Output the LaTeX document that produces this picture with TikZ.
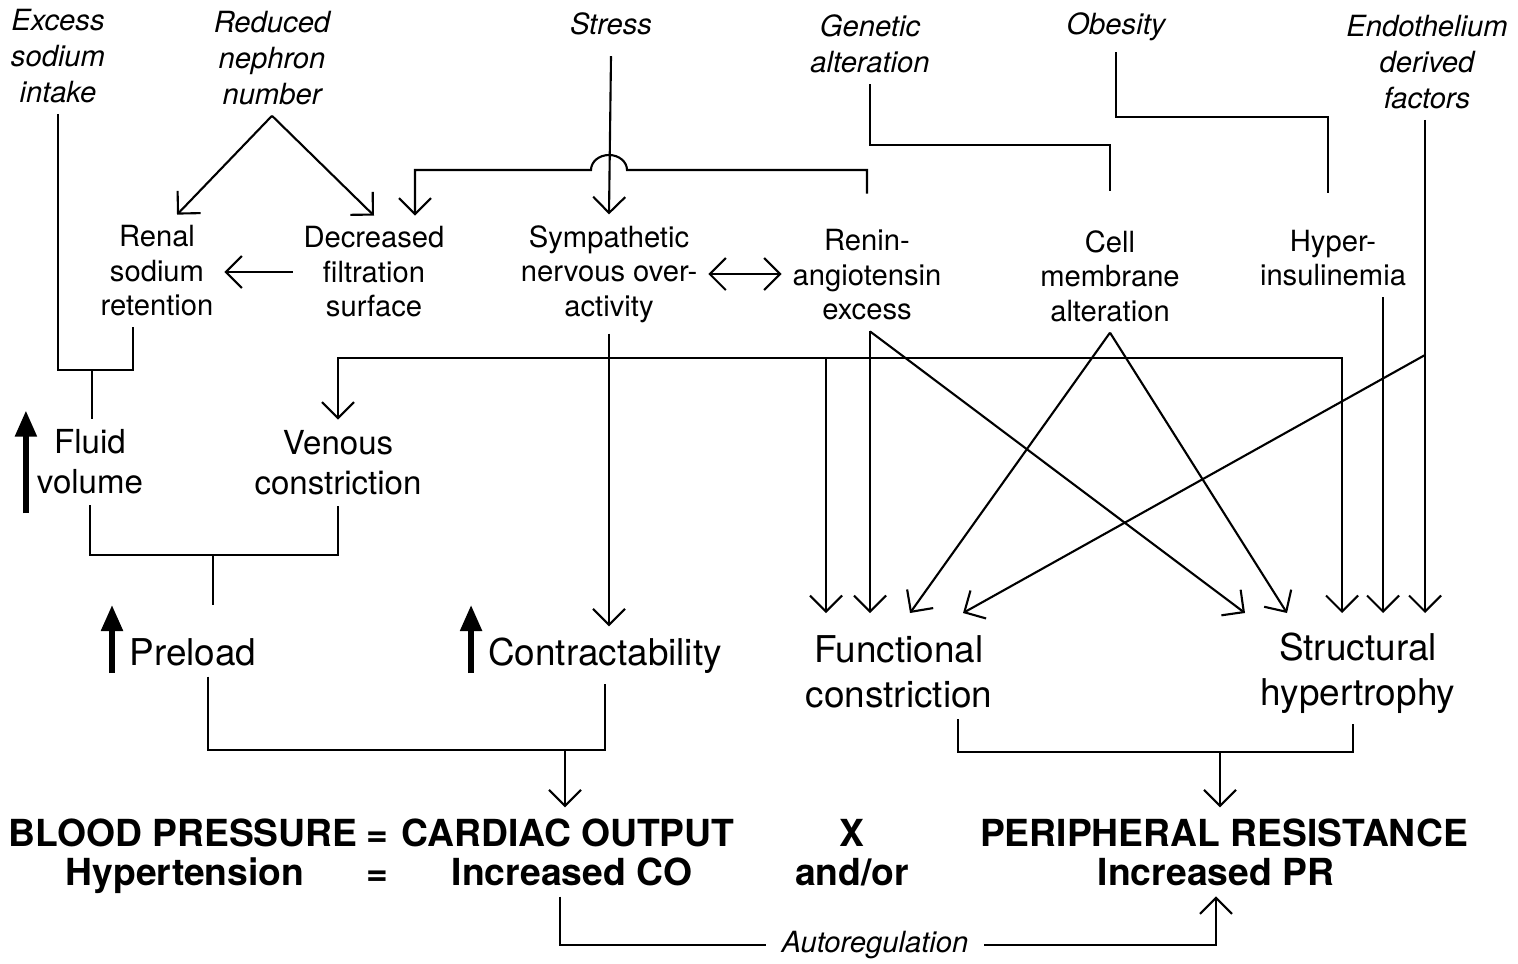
\documentclass[tikz,border=0pt]{standalone}
\usepackage{fontspec}
\setmainfont{TeX Gyre Heros}
\usetikzlibrary{arrows.meta}

\begin{document}
\begin{tikzpicture}[x=0.01cm, y=-0.01cm, line width=0.6pt,
    >={Straight Barb[length=1.6mm,width=3.2mm]},
    cause/.style={font=\fontsize{8.3}{10.2}\selectfont\itshape, align=center, inner sep=1mm},
    mech/.style={font=\fontsize{8.3}{9.8}\selectfont, align=center, inner sep=1mm},
    mid/.style={font=\fontsize{9.4}{11.4}\selectfont, align=center, inner sep=1mm},
    big/.style={font=\fontsize{10.5}{12.8}\selectfont, align=center, inner sep=1mm},
    eqn/.style={font=\fontsize{10.6}{12}\selectfont\bfseries, inner sep=1mm, anchor=base},
    up/.style={line width=1.5pt, -{Triangle[length=2.6mm,width=2.1mm]}}]
        \useasboundingbox (0,0) rectangle (1518,963);

        % Causes
        \node[cause] (exc) at (58,56) {Excess\\sodium\\intake};
        \node[cause] (red) at (272,58) {Reduced\\nephron\\number};
        \node[cause] (stress) at (611,24) {Stress};
        \node[cause] (gen) at (870,44) {Genetic\\alteration};
        \node[cause] (obe) at (1116,27) {Obesity};
        \node[cause] (endo) at (1427,62) {Endothelium\\derived\\factors};

        % Mechanisms
        \node[mech] (renal) at (157,271) {Renal\\sodium\\retention};
        \node[mech] (decr) at (374,272) {Decreased\\filtration\\surface};
        \node[mech] (symp) at (609,274) {Sympathetic\\nervous over-\\activity};
        \node[mech] (renin) at (867,275) {Renin-\\angiotensin\\excess};
        \node[mech] (cell) at (1110,276) {Cell\\membrane\\alteration};
        \node[mech] (hyper) at (1333,258) {Hyper-\\insulinemia};

        % Volume, heart and vessels
        \node[mid] (fluid) at (90,462) {Fluid\\volume};
        \node[mid] (venous) at (338,463) {Venous\\constriction};
        \node[big, anchor=base] (preload) at (193,665) {Preload};
        \node[big, anchor=base] (contr) at (605,665) {Contractability};
        \node[big] (func) at (899,672) {Functional\\constriction};
        \node[big] (struct) at (1358,673) {Structural\\hypertrophy};

        % Equation
        \node[eqn] (bp) at (183,846) {BLOOD PRESSURE};
        \node[eqn] (eq1) at (377,846) {=};
        \node[eqn] (co) at (568,846) {CARDIAC OUTPUT};
        \node[eqn] (times) at (852,846) {X};
        \node[eqn] (pr) at (1224,846) {PERIPHERAL RESISTANCE};
        \node[eqn] (hyp) at (185,885) {Hypertension};
        \node[eqn] (eq2) at (377,885) {=};
        \node[eqn] (ico) at (572,885) {Increased CO};
        \node[eqn] (andor) at (852,885) {and/or};
        \node[eqn] (ipr) at (1216,885) {Increased PR};
        \node[cause, inner sep=1.5mm] (auto) at (875,945) {Autoregulation};

        % Junctions and arrow ends
        \coordinate (fj) at (92,370);
        \coordinate (hump) at (609,170);
        \coordinate (sj) at (609,358);
        \coordinate (ej) at (1425,355);
        \coordinate (pj) at (213,555);
        \coordinate (cj) at (565,750);
        \coordinate (rj) at (1220,752);
        \foreach \n/\x in {f1/826, f2/870, f3/910, f4/963, s1/1245, s2/1287, s3/1342, s4/1383, s5/1425}
            \coordinate (\n) at (\x,613);

        % Kidney side
        \draw (exc.south) |- (fj) -| ([xshift=-2.4mm]renal.south);
        \draw (fj) -- (fluid.north -| fj);
        \draw[->] (red.south) -- ([xshift=2mm]renal.north);
        \draw[->] (red.south) -- (decr.north);
        \draw[->] (decr.west) -- (decr.west -| renal.east);

        % Stress, renin, sympathetic
        \draw[->] ([yshift=-1mm]stress.south) -- (symp.north);
        \draw[->] ([yshift=2.5mm]renin.north) |- ([xshift=1.8mm]hump)
            arc[start angle=0, end angle=180, x radius=1.8mm, y radius=1.5mm]
            -| ([xshift=4.1mm]decr.north);
        \draw[<->] (symp.east) -- (symp.east -| renin.west);
        \draw (gen.south) -- ++(0,61) -| ([yshift=2.8mm]cell.north);
        \draw (obe.south) -- ++(0,65) -| ([xshift=-0.5mm,yshift=2.6mm]hyper.north);

        % Into contractability and venous constriction
        \draw[->] (symp.south) -- (symp.south |- contr.north);
        \draw[->] (sj) -| (venous.north);
        \draw[->] (sj) -| (s3);
        \draw[->] (sj -| f1) -- (f1);

        % Into functional constriction and structural hypertrophy
        \draw[->] (renin.south -| f2) -- (f2);
        \draw[->] (renin.south -| f2) -- (s1);
        \draw[->] (cell.south) -- (f3);
        \draw[->] (cell.south) -- (s2);
        \draw[->] (hyper.south -| s4) -- (s4);
        \draw[->] (endo.south -| s5) -- (s5);
        \draw[->] (ej) -- (f4);

        % Preload, cardiac output, peripheral resistance
        \draw (fluid.south) |- (pj) -| (venous.south);
        \draw (pj) -- ++(0,50);
        \draw ([xshift=1.5mm]preload.south) |- (cj) -| (contr.south);
        \draw[->] (cj) -- (co.north -| cj);
        \draw ([xshift=5.9mm]func.south) |- (rj) -| ([xshift=-0.5mm]struct.south);
        \draw[->] (rj) -- (pr.north -| rj);
        \draw ([xshift=-1.2mm]ico.south) |- (auto.west);
        \draw[->] (auto.east) -| (ipr.south);

        % Increase marks
        \draw[up] ([yshift=-0.8mm]fluid.south west) -- ([yshift=0.8mm]fluid.north west);
        \draw[up] ([xshift=-0.65mm,yshift=-0.8mm]preload.base west) -- ++(0,-68);
        \draw[up] ([xshift=-0.6mm,yshift=-0.8mm]contr.base west) -- ++(0,-68);
    \end{tikzpicture}
\end{document}
